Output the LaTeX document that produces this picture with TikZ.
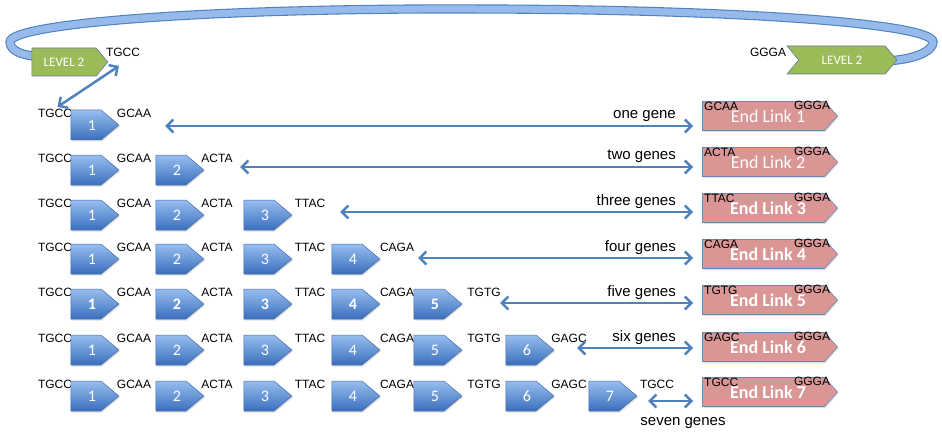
\documentclass[tikz,border=0pt]{standalone}
\usepackage{fontspec}
\setmainfont{Liberation Sans}
\newfontfamily\calibri{Carlito}
\usetikzlibrary{shapes.symbols,arrows.meta,shadows}
\definecolor{ArrowBlue}{RGB}{79,129,189}
\definecolor{GeneTop}{RGB}{152,190,240}
\definecolor{GeneBot}{RGB}{58,110,188}
\definecolor{GeneEdge}{RGB}{70,110,170}
\definecolor{LinkPink}{RGB}{217,150,148}
\definecolor{LinkEdge}{RGB}{105,135,185}
\definecolor{LevelGreen}{RGB}{155,187,89}
\definecolor{LevelEdge}{RGB}{100,125,150}
\definecolor{RingFill}{RGB}{150,186,236}
\definecolor{RingEdge}{RGB}{79,129,189}
\newcommand\seqlab[1]{\ifcase#1\or GCAA\or ACTA\or TTAC\or CAGA\or TGTG\or GAGC\or TGCC\fi}
\tikzset{
	gene/.style={signal,signal to=east,signal pointer angle=80,minimum width=48pt,minimum height=30pt,
		inner sep=0pt,draw=GeneEdge,line width=0.5pt,top color=GeneTop,bottom color=GeneBot,text=white,
		font=\calibri\fontsize{16}{16}\selectfont,drop shadow={opacity=0.25,shadow xshift=1pt,shadow yshift=-1.5pt}},
	endlink/.style={signal,signal to=east,signal pointer angle=96,minimum width=135pt,minimum height=29pt,
		inner sep=0pt,draw=LinkEdge,line width=0.6pt,fill=LinkPink,text=white,
		font=\calibri\fontsize{18}{18}\selectfont,drop shadow={opacity=0.25,shadow xshift=1pt,shadow yshift=-1.5pt}},
	level/.style={signal,signal pointer angle=100,minimum height=28pt,inner sep=0pt,
		fill=LevelGreen,draw=LevelEdge,line width=0.6pt,text=white,font=\calibri\fontsize{13}{13}\selectfont},
	seq/.style={font=\fontsize{12}{12}\selectfont,inner sep=0pt},
	cnt/.style={font=\fontsize{15}{15}\selectfont,inner sep=0pt},
	dbl/.style={draw=ArrowBlue,line width=2.5pt,
		{Straight Barb[length=6.5pt,width=13pt]}-{Straight Barb[length=6.5pt,width=13pt]}},
	ring/.style={draw=RingEdge,line width=1.1pt,double=RingFill,double distance=7pt},
}
\begin{document}
\begin{tikzpicture}[x=1pt,y=-1pt]
	\useasboundingbox (0,0) rectangle (942,441);
	% level 2 loop
	\draw[ring] (45,57) .. controls (20,56) and (10,50) .. (10,42)
		.. controls (10,23) and (214,8) .. (471,9)
		.. controls (728,9) and (933,23) .. (933,42)
		.. controls (933,52) and (912,60) .. (885,61);
	\node[level,signal to=east,minimum width=76pt] (lvA) at (64,62) {LEVEL 2};
	\node[level,signal to=east,signal from=west,minimum width=110pt] (lvB) at (842,60) {LEVEL 2};
	\node[seq] (tA) at (123,52) {TGCC};
	\node[seq] (tB) at (768,52) {GGGA};
	\coordinate (lvtip) at (119,66);
	% one row per assembly
	\foreach \r/\yg/\ya/\ye/\xa/\cnt in {1/125/126/116/165/one gene,2/170/167/162/240/two genes,
		3/215/212/208/340/three genes,4/259/258/254/418/four genes,5/304/303/300/500/five genes,
		6/350/348/347/577/six genes,7/396/401/392/648/seven genes}{
		\node[seq] (s\r-0) at (55,\yg-12) {TGCC};
		\foreach \k in {1,...,\r}{
			\pgfmathsetmacro{\xb}{{86,171,259,347,429,521,604}[\k-1]}
			\pgfmathsetmacro{\xl}{{134,217,310,397,484,569,657}[\k-1]}
			\node[gene] (g\r-\k) at (\xb,\yg) {\hspace*{12pt}\ifnum\r=5 \bfseries\fi\k};
			\node[seq] (s\r-\k) at (\xl,\yg-12) {\seqlab{\k}};
		}
		\node[endlink] (e\r) at (763.5,\ye) {\hspace*{9pt}\ifnum\r>2 \bfseries\fi End Link \r};
		\node[seq,anchor=west] (el\r) at (704,\ye-10) {\seqlab{\r}};
		\node[seq] (eg\r) at (812,\ye-11) {GGGA};
		\coordinate (a\r) at (\xa,\ya);
		\draw[dbl,shorten >=9pt] (a\r) -- (a\r -| e\r.west);
		\ifnum\r<7
			\node[cnt,anchor=base east] (c\r) at (676,\ya-7) {\cnt};
		\else
			\node[cnt,anchor=base] (c\r) at (683,425) {\cnt};
		\fi
	}
	\draw[dbl,shorten >=3pt] (lvtip) -- (s1-0.north);
\end{tikzpicture}
\end{document}
